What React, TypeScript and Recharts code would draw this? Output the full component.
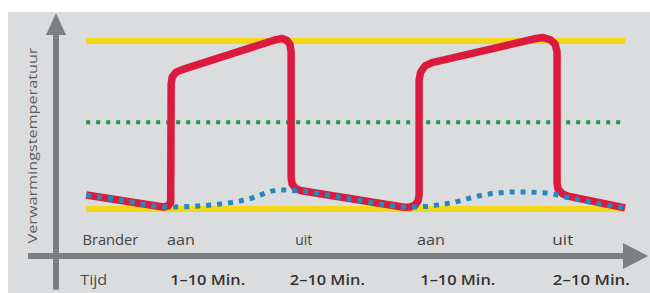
import { ComposedChart, Line, XAxis, YAxis, ReferenceLine, ReferenceDot, Label } from 'recharts'

// time axis: 0..100 = visible cycle, temperature: arbitrary °-scale
const X_DOMAIN = [-5.6, 103.7]
const Y_DOMAIN = [3.2, 89.3]
const T_MIN = 20
const T_MAX = 80
const T_SET = 51

// boiler water temperature (burner on -> rise, off -> fall)
const redLine = [
  { t: 0, T: 25 }, { t: 14.29, T: 20.71 }, { t: 15.21, T: 21.07 }, { t: 15.68, T: 22.5 },
  { t: 15.77, T: 64.6 }, { t: 15.96, T: 67.1 }, { t: 16.7, T: 68.9 }, { t: 17.81, T: 69.8 },
  { t: 35.25, T: 80.5 }, { t: 36.36, T: 80.9 }, { t: 37.29, T: 80.2 }, { t: 37.85, T: 78.6 },
  { t: 38.03, T: 76.1 }, { t: 38.03, T: 31.1 }, { t: 38.22, T: 28.9 }, { t: 38.78, T: 27.5 },
  { t: 39.7, T: 26.6 }, { t: 59.0, T: 20.6 }, { t: 60.11, T: 20.7 }, { t: 61.04, T: 21.4 },
  { t: 61.6, T: 22.9 }, { t: 61.78, T: 25.0 }, { t: 61.78, T: 66.1 }, { t: 62.06, T: 68.9 },
  { t: 62.89, T: 71.1 }, { t: 64.19, T: 72.3 }, { t: 83.49, T: 80.9 }, { t: 84.79, T: 81.25 },
  { t: 86.09, T: 80.5 }, { t: 87.01, T: 78.9 }, { t: 87.38, T: 76.1 }, { t: 87.38, T: 29.3 },
  { t: 87.57, T: 27.1 }, { t: 88.31, T: 25.5 }, { t: 89.42, T: 24.6 }, { t: 100, T: 20.4 },
]

// room / return temperature
const blueLine = [
  { t: 0, T: 25 }, { t: 7.2, T: 22.9 }, { t: 14.7, T: 20.7 }, { t: 23.0, T: 21.4 },
  { t: 29.5, T: 23.2 }, { t: 36.0, T: 26.8 }, { t: 39.7, T: 26.4 }, { t: 49.0, T: 23.6 },
  { t: 60.1, T: 20.7 }, { t: 67.5, T: 22.1 }, { t: 73.7, T: 25.0 }, { t: 80.0, T: 26.1 },
  { t: 85.5, T: 25.7 }, { t: 88.9, T: 24.3 }, { t: 94.4, T: 22.1 }, { t: 100, T: 20.4 },
]

const flat = (T: number) => [{ t: 0, T }, { t: 100, T }]

// tick rows
const timeTicks = [-1.1, 15.6, 37.8, 62.0, 86.6]
const timeLabels = ['Tijd', '1–10 Min.', '2–10 Min.', '1–10 Min.', '2–10 Min.']
const timeWidths = [27, 75, 75, 75, 77]

const burnerPos = [-0.7, 15.0, 38.8, 61.4, 86.5]
const burnerLabels = ['Brander', 'aan', 'uit', 'aan', 'uit']
const burnerWidths = [56, 28, 17, 28, 21]
const BURNER_ROW_T = 7.1

const AXIS = '#7c7f82'
const FONT = '"Open Sans", "Noto Sans", sans-serif'

const TimeTick = ({ x, payload, index }: any) => (
  <text x={x} y={285} fontFamily={FONT} fontSize={index === 0 ? 14 : 14.5}
    fontWeight={index === 0 ? 400 : 600} fill={index === 0 ? '#4d4d4d' : '#333'}
    textLength={timeWidths[index]} lengthAdjust="spacingAndGlyphs">
    {timeLabels[timeTicks.indexOf(payload.value)]}
  </text>
)

export default function App() {
  return (
    <div style={{ position: 'absolute', left: 0, top: 0, width: 650, height: 293, background: '#fff' }}>
      <div style={{ position: 'absolute', left: 8, top: 12, width: 642, height: 281, background: '#dbdcde' }} />
      <div style={{ position: 'absolute', left: 0, top: 0 }}>
        <ComposedChart width={650} height={293} margin={{ top: 15, right: 5, bottom: 0, left: 0 }}>
          <XAxis type="number" dataKey="t" domain={X_DOMAIN} ticks={timeTicks} interval={0}
            axisLine={false} tickLine={false} height={37} tick={<TimeTick />} allowDataOverflow />
          <YAxis type="number" dataKey="T" domain={Y_DOMAIN} width={56} axisLine={false} tick={false}
            tickLine={false} allowDataOverflow>
            <Label content={({ viewBox }: any) => {
              const cx = viewBox.x + 32
              const cy = viewBox.y + viewBox.height / 2 + 10
              return (
                <text x={cx} y={cy} transform={`rotate(-90 ${cx} ${cy})`} textAnchor="middle"
                  dominantBaseline="central" fontFamily={FONT} fontSize={13} fill="#5e5e5e"
                  textLength={196} lengthAdjust="spacingAndGlyphs">
                  Verwarmingstemperatuur
                </text>
              )
            }} />
          </YAxis>

          {/* axes with arrows */}
          <ReferenceLine ifOverflow="visible" stroke={AXIS} strokeWidth={6}
            segment={[{ x: -10.8, y: Y_DOMAIN[0] }, { x: X_DOMAIN[1] - 3, y: Y_DOMAIN[0] }]} />
          <ReferenceLine ifOverflow="visible" stroke={AXIS} strokeWidth={6}
            segment={[{ x: X_DOMAIN[0], y: -8.9 }, { x: X_DOMAIN[0], y: Y_DOMAIN[1] - 6 }]} />
          <ReferenceDot ifOverflow="visible" x={X_DOMAIN[1]} y={Y_DOMAIN[0]}
            shape={({ cx, cy }: any) => <path d={`M${cx - 22},${cy - 13} L${cx + 3},${cy} L${cx - 22},${cy + 13} Z`} fill={AXIS} />} />
          <ReferenceDot ifOverflow="visible" x={X_DOMAIN[0]} y={Y_DOMAIN[1]}
            shape={({ cx, cy }: any) => <path d={`M${cx - 10},${cy + 20} L${cx},${cy - 2} L${cx + 10},${cy + 20} Z`} fill={AXIS} />} />

          {burnerLabels.map((s, i) => (
            <ReferenceDot key={i} ifOverflow="visible" x={burnerPos[i]} y={BURNER_ROW_T}
              shape={({ cx, cy }: any) => (
                <text x={cx} y={cy} fontFamily={FONT} fontSize={15} fill="#444"
                  textLength={burnerWidths[i]} lengthAdjust="spacingAndGlyphs">{s}</text>
              )} />
          ))}

          <Line data={flat(T_MAX)} dataKey="T" stroke="#f2d816" strokeWidth={6} dot={false}
            activeDot={false} isAnimationActive={false} />
          <Line data={flat(T_MIN)} dataKey="T" stroke="#f2d816" strokeWidth={6} dot={false}
            activeDot={false} isAnimationActive={false} />
          <Line data={flat(T_SET)} dataKey="T" stroke="#1f9a4c" strokeWidth={4} strokeDasharray="4 6"
            dot={false} activeDot={false} isAnimationActive={false} />
          <Line data={redLine} dataKey="T" type="linear" stroke="#dc1a3e" strokeWidth={7.5}
            strokeLinejoin="round" dot={false} activeDot={false} isAnimationActive={false} />
          <Line data={blueLine} dataKey="T" type="monotone" stroke="#2389bf" strokeWidth={5}
            strokeDasharray="5 6" dot={false} activeDot={false} isAnimationActive={false} />
        </ComposedChart>
      </div>
    </div>
  )
}
